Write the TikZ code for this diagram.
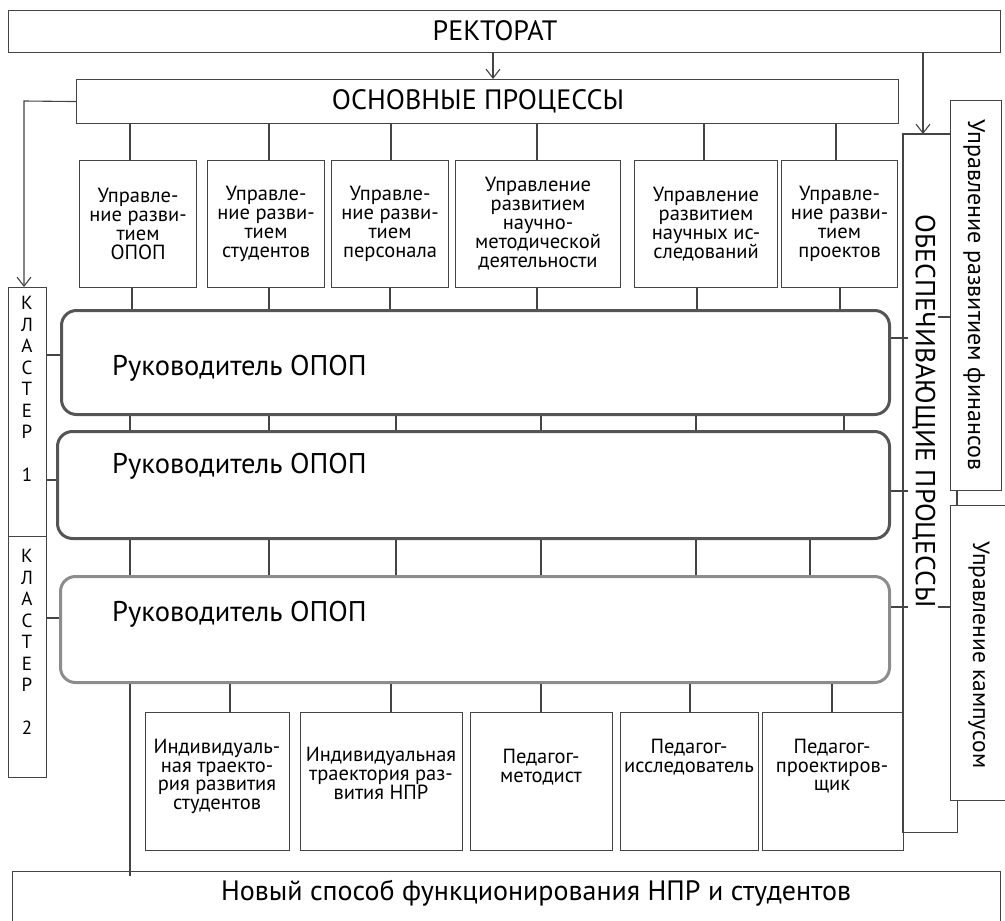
\documentclass[tikz,border=0pt]{standalone}
\usepackage{fontspec}
\setmainfont{PT Sans}
\usetikzlibrary{arrows.meta,calc}
\definecolor{ln}{HTML}{444444}
\definecolor{rkA}{HTML}{555555}
\definecolor{rkB}{HTML}{8C8C8C}
\begin{document}
\begin{tikzpicture}[x=1pt,y=-1pt,
  box/.style={draw=ln, line width=1.1pt, rectangle, inner sep=0pt, anchor=north west},
  nobox/.style={rectangle, inner sep=0pt, anchor=north west},
  con/.style={draw=ln, line width=1.1pt},
  arr/.style={con, -{Straight Barb[length=9pt,width=14pt]}},
  rk/.style={line width=3pt, rounded corners=15pt, rectangle, anchor=north west, inner sep=0pt},
  tb/.style={font=\fontsize{20.5}{19}\selectfont, align=center},
  bt/.style={font=\fontsize{20.5}{18.5}\selectfont, align=center, inner sep=0pt, anchor=north},
  big/.style={font=\fontsize{28}{28}\selectfont},
  rt/.style={font=\fontsize{28.5}{28.5}\selectfont, anchor=west, inner sep=0pt},
  kl/.style={font=\fontsize{19}{21.5}\selectfont, align=center, inner sep=0pt, anchor=north},
]
\useasboundingbox (0,0) rectangle (1005,921);

% top
\node[box, minimum width=992, minimum height=42] (rect) at (8,10) {};
\node[big] at (495,31) {РЕКТОРАТ};
\node[box, minimum width=822, minimum height=44] (osn) at (76,79) {};
\node[big] at (478,101) {ОСНОВНЫЕ ПРОЦЕССЫ};

% right side
\node[nobox, minimum width=54, minimum height=698] (ob) at (903,134) {};
\node[box, minimum width=51, minimum height=390] (fin) at (950,100) {};
\node[box, minimum width=60, minimum height=295] (kamp) at (950,505) {};
\node[rotate=-90, font=\fontsize{27.5}{27.5}\selectfont] at (924,411) {ОБЕСПЕЧИВАЮЩИЕ ПРОЦЕССЫ};
\node[rotate=-90, font=\fontsize{24}{24}\selectfont] at (974,295) {Управление развитием финансов};
\node[rotate=-90, font=\fontsize{23.5}{23.5}\selectfont] at (979,655) {Управление кампусом};
\draw[con] (fin.west |- ob.north) -- (ob.north west) -- (ob.south west) -- (ob.south east) -- (ob.south east |- kamp.south);
\draw[con] (957,0 |- fin.south) -- (957,0 |- kamp.north);
\draw[con] (fin.west |- 0,317) -- ++(-12,0);
\draw[con] (kamp.west |- 0,607) -- ++(-12,0);

% clusters
\node[box, minimum width=38, minimum height=249] (kl1) at (8,287) {};
\node[box, minimum width=38, minimum height=241] (kl2) at (8,536) {};
\node[kl] at (27,296) {К\\Л\\А\\С\\Т\\Е\\Р\\[21.5pt]1};
\node[kl] at (27,549) {К\\Л\\А\\С\\Т\\Е\\Р\\[21.5pt]2};

% arrows
\draw[arr] (493,0 |- rect.south) -- (493,0 |- osn.north);
\draw[arr] (923,0 |- rect.south) -- (923,0 |- ob.north);
\draw[arr] (osn.west) -- (24,101) -- (24,0 |- kl1.north);

% top boxes
\node[box, minimum width=117, minimum height=127] (t1) at (79,160) {};
\node[box, minimum width=117, minimum height=127] (t2) at (207,160) {};
\node[box, minimum width=117, minimum height=127] (t3) at (331,160) {};
\node[box, minimum width=165, minimum height=127] (t4) at (455,160) {};
\node[box, minimum width=143, minimum height=127] (t5) at (634,160) {};
\node[box, minimum width=116, minimum height=127] (t6) at (781,160) {};
\node[tb] at (t1.center) {Управле-\\ние разви-\\тием\\ОПОП};
\node[tb] at (t2.center) {Управле-\\ние разви-\\тием\\студентов};
\node[tb] at (t3.center) {Управле-\\ние разви-\\тием\\персонала};
\node[tb] at (t4.center) {Управление\\развитием\\научно-\\методической\\деятельности};
\node[tb] at (t5.center) {Управление\\развитием\\научных ис-\\следований};
\node[tb] at (t6.center) {Управле-\\ние разви-\\тием\\проектов};

\foreach \x/\t in {130/t1,269/t2,391/t3,537/t4,704/t5,836/t6}
  \draw[con] (\x,0 |- osn.south) -- (\x,0 |- \t.north);

% leaders
\node[rk, draw=rkA, minimum width=828, minimum height=104] (r1) at (60,309) {};
\node[rk, draw=rkA, minimum width=832, minimum height=107] (r2) at (56,430) {};
\node[rk, draw=rkB, minimum width=829, minimum height=106] (r3) at (59,575) {};
\node[rt] at (112,368) {Руководитель ОПОП};
\node[rt] at (112,466) {Руководитель ОПОП};
\node[rt] at (112,614) {Руководитель ОПОП};

\foreach \x/\t in {132/t1,269/t2,390/t3,537/t4,697/t5,840/t6}
  \draw[con] (\x,0 |- \t.south) -- (\x,0 |- r1.north);
\foreach \x in {130,269,396,541,696,844}
  \draw[con] (\x,0 |- r1.south) -- (\x,0 |- r2.north);
\foreach \x in {130,269,396,541,696,810}
  \draw[con] (\x,0 |- r2.south) -- (\x,0 |- r3.north);

\draw[con] (kl1.east |- 0,355) -- (r1.west |- 0,355);
\draw[con] (kl1.east |- 0,480) -- (r2.west |- 0,480);
\draw[con] (kl2.east |- 0,618) -- (r3.west |- 0,618);

\draw[con] (r1.east |- 0,338) -- (908,338);
\draw[con] (r2.east |- 0,491) -- (908,491);
\draw[con] (r3.east |- 0,607) -- (908,607);

% bottom boxes
\node[box, minimum width=144, minimum height=138] (b1) at (145,712) {};
\node[box, minimum width=162, minimum height=138] (b2) at (300,712) {};
\node[box, minimum width=142, minimum height=138] (b3) at (470,712) {};
\node[box, minimum width=138, minimum height=138] (b4) at (620,712) {};
\node[box, minimum width=141, minimum height=138] (b5) at (762,712) {};
\node[bt] at (217,739) {Индивидуаль-\\ная траекто-\\рия развития\\студентов};
\node[bt] at (381,747) {Индивидуальная\\траектория раз-\\вития НПР};
\node[bt] at (541,749) {Педагог-\\методист};
\node[bt] at (689,739) {Педагог-\\исследователь};
\node[bt] at (832,739) {Педагог-\\проектиров-\\щик};

\foreach \x/\t in {230/b1,391/b2,541/b3,690/b4,832/b5}
  \draw[con] (\x,0 |- r3.south) -- (\x,0 |- \t.north);

% final
\node[box, minimum width=988, minimum height=70] (nov) at (12,871) {};
\node[font=\fontsize{28}{28}\selectfont] at (536,893) {Новый способ функционирования НПР и студентов};
\draw[con] (130,0 |- r3.south) -- (130,876);
\end{tikzpicture}
\end{document}
